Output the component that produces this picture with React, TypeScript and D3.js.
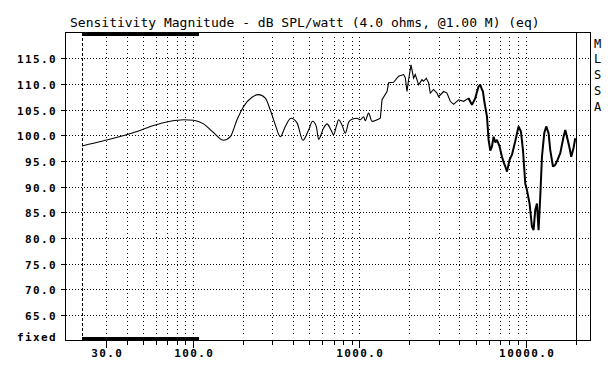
import { useRef, useEffect } from "react";
import * as d3 from "d3";

const FREQ_HZ = [
  21.5, 29.0, 46.0, 57.9, 73.0, 87.8, 100.8, 115.8, 133.0, 152.8, 167.6, 183.9,
  201.5, 226.3, 248.0, 272.1, 291.6, 312.6, 335.0, 358.9, 388.4, 422.1, 458.6,
  495.7, 524.0, 551.2, 569.2, 610.1, 639.5, 675.9, 700.7, 727.4, 750.9, 787.0,
  823.9, 862.5, 903.9, 968.7, 1014, 1061, 1087, 1137, 1192, 1278, 1338, 1370,
  1468, 1501, 1608, 1723, 1847, 1891, 1936, 1979, 2046, 2075, 2121, 2171, 2274,
  2382, 2436, 2529, 2611, 2673, 2798, 2933, 2999, 3214, 3368, 3526, 3690, 3955,
  4239, 4543, 4761, 4984, 5100, 5218, 5341, 5450, 5543, 5646, 5861, 5992, 6135,
  6281, 6423, 6580, 6730, 6977, 7213, 7400, 7551, 7731, 8014, 8284, 8670, 9076,
  9382, 9647, 9959, 10195, 10569, 10926, 11171, 11436, 11708, 11972, 12258,
  12549, 12954, 13320, 13750, 14078, 14615, 15087, 15577, 16172, 16927, 17329,
  17741, 18390, 18826, 19438, 19901,
];
const SPL_DB = [
  97.9, 98.9, 100.7, 101.9, 102.7, 103.0, 102.9, 102.2, 100.5, 99.0, 99.7, 103.0,
  105.6, 107.4, 107.9, 107.2, 104.9, 102.0, 99.7, 101.7, 103.3, 102.4, 99.0,
  101.0, 102.7, 101.7, 99.2, 101.4, 102.2, 101.0, 100.1, 101.7, 103.0, 102.0,
  100.4, 102.5, 103.1, 103.3, 103.0, 103.6, 102.8, 104.3, 102.7, 103.0, 103.3, 106.9,
  108.5, 110.2, 110.3, 111.5, 111.8, 111.2, 108.5, 110.8, 113.7, 112.7, 111.1, 111.8, 109.8,
  110.8, 110.5, 111.1, 110.2, 108.2, 108.9, 108.2, 107.5, 108.5, 108.2, 106.6, 106.0, 106.9,
  106.6, 107.2, 105.9, 107.2, 108.4, 109.5, 109.8, 109.0, 108.5, 106.6, 103.6, 99.1, 97.0,
  97.8, 99.7, 98.6, 99.1, 97.8, 95.8, 94.6, 93.9, 92.9, 95.2, 96.2, 98.8, 101.7,
  100.7, 97.1, 90.6, 89.3, 86.7, 82.2, 81.5, 85.4, 86.7, 81.5, 88.0,
  95.8, 100.4, 101.7, 100.4, 97.1, 93.9, 94.2, 95.2, 96.5, 99.7, 101.0,
  99.7, 97.5, 95.8, 97.5, 99.4,
];

const Y_TICKS = [65, 70, 75, 80, 85, 90, 95, 100, 105, 110, 115];
const X_LABELS = [30, 100, 1000, 10000];
const GRID_HZ = [
  30, 40, 50, 60, 70, 80, 90, 100, 200, 300, 400, 500, 600, 700, 800, 900,
  1000, 2000, 3000, 4000, 5000, 6000, 7000, 8000, 9000, 10000,
];
const TITLE = "Sensitivity Magnitude - dB SPL/watt (4.0 ohms, @1.00 M) (eq)";
const SIDE_TAG = ["M", "L", "S", "S", "A"];
const SPLICE_HZ = [21.5, 109]; // heavy bar along top and bottom
const DATA_START_HZ = 21.5;
const DATA_END_HZ = 20000;
const SMOOTH_UNTIL_HZ = 1338; // below this the trace is smooth
const THICK_FROM_HZ = 4500; // noisy part drawn heavier

export default function App() {
  const svgRef = useRef<SVGSVGElement>(null);

  useEffect(() => {
    const svg = d3.select(svgRef.current);
    svg.selectAll("*").remove();

    const left = 65.5, right = 590.5, top = 32.5, bottom = 340.5;
    const x = d3.scaleLog().domain([17.1, 24580]).range([left, right]);
    const y = d3.scaleLinear().domain([60, 120]).range([bottom, top]);
    const px = (v: number) => Math.round(x(v)) + 0.5;
    const py = (v: number) => Math.round(y(v)) + 0.5;
    const mono = "'DejaVu Sans Mono', monospace";

    svg.append("rect").attr("width", 615).attr("height", 366).attr("fill", "#fff");

    // title
    svg.append("text")
      .attr("x", 70).attr("y", 27)
      .attr("font-family", mono).attr("font-size", 13)
      .text(TITLE);

    // horizontal grid
    const grid = svg.append("g").attr("shape-rendering", "crispEdges");
    Y_TICKS.forEach((v) => {
      grid.append("line")
        .attr("x1", left).attr("x2", right)
        .attr("y1", py(v)).attr("y2", py(v))
        .attr("stroke", "#000").attr("stroke-dasharray", "1 2");
      grid.append("line")
        .attr("x1", left - 5).attr("x2", left)
        .attr("y1", py(v)).attr("y2", py(v))
        .attr("stroke", "#000");
    });

    // vertical grid + bottom ticks
    GRID_HZ.forEach((f) => {
      const major = X_LABELS.includes(f);
      grid.append("line")
        .attr("x1", px(f)).attr("x2", px(f))
        .attr("y1", top + 4).attr("y2", bottom - 4)
        .attr("stroke", "#000").attr("stroke-dasharray", "1 3");
      grid.append("line")
        .attr("x1", px(f)).attr("x2", px(f))
        .attr("y1", bottom).attr("y2", bottom + (major ? 7 : 4))
        .attr("stroke", "#000");
    });

    // left limit (dashed) and right limit (solid)
    grid.append("line")
      .attr("x1", px(DATA_START_HZ)).attr("x2", px(DATA_START_HZ))
      .attr("y1", top).attr("y2", bottom)
      .attr("stroke", "#000").attr("stroke-dasharray", "3 2");
    grid.append("line")
      .attr("x1", px(DATA_END_HZ)).attr("x2", px(DATA_END_HZ))
      .attr("y1", top).attr("y2", bottom + 4)
      .attr("stroke", "#000");

    // frame
    grid.append("rect")
      .attr("x", left).attr("y", top)
      .attr("width", right - left).attr("height", bottom - top)
      .attr("fill", "none").attr("stroke", "#000");

    // splice bars
    const bx0 = Math.round(x(SPLICE_HZ[0]));
    const bx1 = Math.round(x(SPLICE_HZ[1]));
    grid.append("rect").attr("x", bx0).attr("y", top - 0.5)
      .attr("width", bx1 - bx0).attr("height", 3.5).attr("fill", "#000");
    grid.append("rect").attr("x", bx0).attr("y", bottom - 4)
      .attr("width", bx1 - bx0).attr("height", 4).attr("fill", "#000");

    // y labels
    const lab = svg.append("g")
      .attr("font-family", mono).attr("font-size", 11)
      .attr("font-weight", "bold").attr("letter-spacing", 1.4);
    Y_TICKS.forEach((v) => {
      lab.append("text")
        .attr("x", 57).attr("y", py(v) + 4)
        .attr("text-anchor", "end")
        .text(v.toFixed(1));
    });
    lab.append("text")
      .attr("x", 57).attr("y", bottom)
      .attr("text-anchor", "end")
      .text("fixed");

    // x labels
    X_LABELS.forEach((f) => {
      lab.append("text")
        .attr("x", px(f) + 0.7).attr("y", 357)
        .attr("text-anchor", "middle")
        .text(f.toFixed(1));
    });

    // side tag
    SIDE_TAG.forEach((c, i) => {
      svg.append("text")
        .attr("x", 597.5).attr("y", 47.5 + i * 15.8)
        .attr("text-anchor", "middle")
        .attr("font-family", mono).attr("font-size", 12)
        .text(c);
    });

    // curve: smooth low end, raw polyline for the noisy top end
    const pts = FREQ_HZ.map((f, i) => [f, SPL_DB[i]] as [number, number]);
    const smooth = d3.line<[number, number]>()
      .x((d) => x(d[0])).y((d) => y(d[1]))
      .curve(d3.curveMonotoneX);
    const raw = d3.line<[number, number]>()
      .x((d) => x(d[0])).y((d) => y(d[1]));

    svg.append("path")
      .attr("d", smooth(pts.filter((d) => d[0] <= SMOOTH_UNTIL_HZ)))
      .attr("fill", "none").attr("stroke", "#000").attr("stroke-width", 1.1);
    svg.append("path")
      .attr("d", raw(pts.filter((d) => d[0] >= SMOOTH_UNTIL_HZ && d[0] <= THICK_FROM_HZ + 300)))
      .attr("fill", "none").attr("stroke", "#000").attr("stroke-width", 1.1);
    svg.append("path")
      .attr("d", raw(pts.filter((d) => d[0] >= THICK_FROM_HZ)))
      .attr("fill", "none").attr("stroke", "#000").attr("stroke-width", 2)
      .attr("stroke-linejoin", "bevel");
  }, []);

  return (
    <svg
      ref={svgRef}
      width={615}
      height={366}
      style={{ position: "fixed", left: 0, top: 0, display: "block" }}
    />
  );
}
